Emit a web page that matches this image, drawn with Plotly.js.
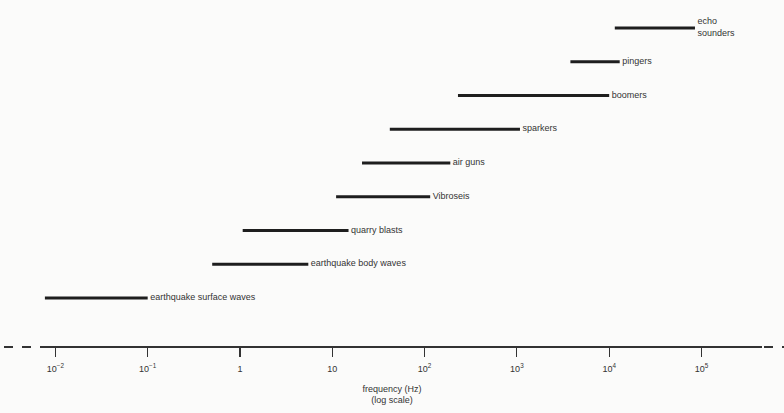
<!DOCTYPE html>
<html><head><meta charset="utf-8">
<script src="https://cdn.plot.ly/plotly-3.0.1.min.js"></script>
<style>html,body{margin:0;padding:0;background:#fbfbfa;}#c{width:784px;height:413px;}</style>
</head><body><div id="c"></div>
<script>
// Frequency ranges (Hz) of seismic sources, bottom row first
const sources = ["earthquake surface waves","earthquake body waves","quarry blasts","Vibroseis","air guns","sparkers","boomers","pingers","echo<br>sounders"];
const freqLow  = [0.0077, 0.5, 1.07, 11, 21, 42, 230, 3800, 11500];
const freqHigh = [0.1,    5.5, 15,   115, 190, 1080, 10000, 13000, 85000];
const tickVals = [0.01, 0.1, 1, 10, 100, 1000, 10000, 100000];
const tickText = ["10<sup>−2</sup>","10<sup>−1</sup>","1","10","10<sup>2</sup>","10<sup>3</sup>","10<sup>4</sup>","10<sup>5</sup>"];

const rows = sources.map((s, i) => i);
const traces = sources.map((s, i) => ({
  type: "scatter", mode: "lines",
  x: [freqLow[i], freqHigh[i]], y: [rows[i], rows[i]],
  line: {color: "#1e1e1e", width: 3.2},
  hoverinfo: "skip", showlegend: false
}));
traces.push({
  type: "scatter", mode: "text",
  x: freqHigh, y: rows,
  text: sources.map(s => "\u00a0" + s.replace("<br>", "<br>\u00a0")), textposition: "middle right",
  textfont: {family: "Liberation Sans, Arial, sans-serif", size: 9, color: "#333"},
  hoverinfo: "skip", showlegend: false, cliponaxis: false
});

const layout = {
  width: 784, height: 413,
  margin: {l: 0, r: 0, t: 10, b: 66},
  paper_bgcolor: "#fbfbfa", plot_bgcolor: "#fbfbfa",
  font: {family: "Liberation Sans, Arial, sans-serif", size: 9, color: "#333"},
  xaxis: {
    type: "log", range: [-2.60, 5.894],
    tickvals: tickVals, ticktext: tickText,
    ticks: "outside", ticklen: 9, tickwidth: 1.2, tickcolor: "#333",
    ticklabelstandoff: 4,
    showgrid: false, zeroline: false, showline: false,
    tickfont: {size: 9, color: "#333"},
    title: {text: "frequency (Hz)<br>(log scale)", font: {size: 9, color: "#333"}, standoff: 12}
  },
  yaxis: {range: [-1.452, 8.533], visible: false, showgrid: false, zeroline: false},
  shapes: [
    {type: "line", xref: "paper", yref: "paper", x0: 40/784, x1: 762/784, y0: 0, y1: 0, line: {color: "#333", width: 2}},
    {type: "line", xref: "paper", yref: "paper", x0: 4/784, x1: 38/784, y0: 0, y1: 0, line: {color: "#333", width: 2, dash: "dash"}},
    {type: "line", xref: "paper", yref: "paper", x0: 764/784, x1: 784/784, y0: 0, y1: 0, line: {color: "#333", width: 2, dash: "dash"}}
  ]
};
Plotly.newPlot("c", traces, layout, {displayModeBar: false, staticPlot: true});
</script></body></html>
